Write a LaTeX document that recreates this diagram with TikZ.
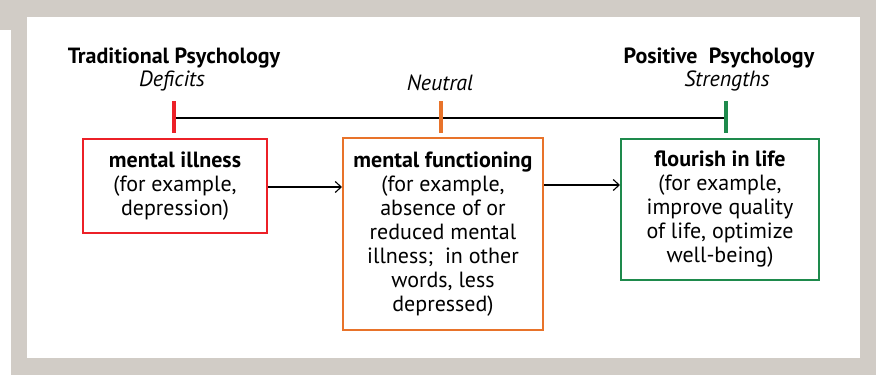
\documentclass[tikz,border=0pt]{standalone}
\usepackage{fontspec}
\setmainfont{PT Sans}
\usetikzlibrary{arrows.meta}
\definecolor{framegray}{HTML}{D1CCC6}
\definecolor{cred}{HTML}{EC2027}
\definecolor{corange}{HTML}{E8732A}
\definecolor{cgreen}{HTML}{1E8A4C}
\tikzset{
  box/.style={draw=#1, line width=2pt, fill=white, align=center, inner sep=0pt,
    font=\fontsize{22}{24}\selectfont},
  head/.style={font=\fontsize{22}{24}\selectfont\bfseries, inner sep=0pt},
  sub/.style={font=\fontsize{22}{24}\selectfont\itshape, inner sep=0pt},
  tick/.style={line width=3.5pt, draw=#1},
  flow/.style={line width=1.1pt, -{Straight Barb[length=6pt,width=11pt,line width=1.1pt]}},
}
\begin{document}
\begin{tikzpicture}[x=1pt,y=-1pt]
\useasboundingbox (0,0) rectangle (876,375);
\fill[framegray] (11,0) rectangle (876,375);
\fill[framegray] (0,0) rectangle (11,30);
\fill[white] (27,17) rectangle (860,358);

\node[head] (tp) at (174,58) {Traditional Psychology};
\node[sub] (def) at (172,81) {Deficits};
\node[sub] (neu) at (440,83) {Neutral};
\node[head] (pp) at (719,58) {Positive\ \ Psychology};
\node[sub] (str) at (727,81) {Strengths};

\coordinate (rtop) at (174,101);
\coordinate (rbot) at (174,133);
\coordinate (otop) at (441,101);
\coordinate (obot) at (441,133);
\coordinate (gtop) at (726,101);
\coordinate (gbot) at (726,133);
\coordinate (rmid) at (174,118);
\coordinate (gmid) at (726,118);

\draw[line width=2pt] (rmid) -- (gmid);
\draw[tick=cred] (rtop) -- (rbot);
\draw[tick=corange] (otop) -- (obot);
\draw[tick=cgreen] (gtop) -- (gbot);

\node[box=cred, minimum width=184pt, minimum height=94pt] (ill) at (175,186)
  {\textbf{mental illness}\\(for example,\\depression)};
\node[box=corange, minimum width=200pt, minimum height=192pt] (fun) at (443,234)
  {\textbf{mental functioning}\\(for example,\\absence of or\\reduced mental\\illness;\ \ in other\\words, less\\depressed)};
\node[box=cgreen, minimum width=198pt, minimum height=141pt] (flo) at (720,209.5)
  {\textbf{flourish in life}\\(for example,\\improve quality\\of life, optimize\\well-being)};

\draw[flow] (ill.east |- 0,187) -- (fun.west |- 0,187);
\draw[flow] (fun.east |- 0,185) -- (flo.west |- 0,185);
\end{tikzpicture}
\end{document}
